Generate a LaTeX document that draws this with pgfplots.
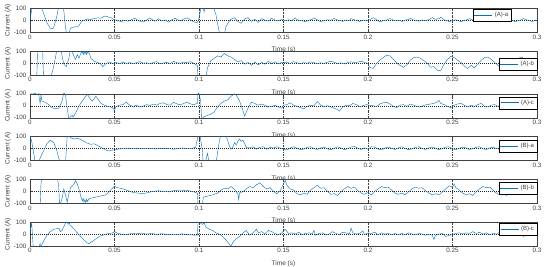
\documentclass[border=0pt]{standalone}
\usepackage{fontspec}
\setmainfont{Liberation Sans}
\usepackage{pgfplots}
\pgfplotsset{compat=1.18}
\definecolor{mblue}{rgb}{0,0.447,0.741}
\definecolor{axgray}{HTML}{404040}
\pgfplotsset{
  sub/.style={
    scale only axis, width=507pt, height=24pt,
    xmin=0, xmax=0.3, ymin=-100, ymax=100,
    xtick={0,0.05,0.1,0.15,0.2,0.25,0.3},
    xticklabels={0,0.05,0.1,0.15,0.2,0.25,0.3},
    ytick={-100,0,100},
    /pgf/number format/assume math mode=true,
    xlabel={Time (s)}, ylabel={Current (A)},
    axis background/.style={fill=white},
    axis line style={draw=axgray, line width=0.45pt},
    tick style={draw=axgray, line width=0.4pt},
    tick align=inside, major tick length=2pt,
    ticklabel style={font=\fontsize{6.3}{7}\selectfont, text=axgray},
    xticklabel style={yshift=1pt},
    label style={font=\fontsize{6.5}{7}\selectfont, text=axgray},
    xlabel style={at={(axis description cs:0.5,0)}, anchor=center, yshift=-18pt},
    ylabel style={at={(axis description cs:-0.0434,0.5)}, anchor=center},
    xmajorgrids,
    grid style={draw=black!75, line width=0.4pt, dash pattern=on 2pt off 1pt on 0.6pt off 1pt},
    legend style={font=\fontsize{6}{7}\selectfont, line width=0.4pt,
      inner sep=1pt, outer sep=0pt, anchor=north east},
    legend cell align=left,
    legend image code/.code={\draw[color=mblue, draw=mblue, line width=0.7pt] (0pt,0pt) -- (18pt,0pt);},
    cycle list={{mblue, no markers, line width=0.45pt}},
  },
  zero/.style={black!85, line width=0.4pt, dash pattern=on 1pt off 1pt, forget plot},
}
\newcommand{\lgt}[1]{\textcolor{axgray}{#1}}
\begin{document}
\begin{tikzpicture}
\path[use as bounding box] (0pt,0pt) rectangle (550pt,-267pt);

% (A)-a
\begin{axis}[sub, at={(30pt,-8.3pt)}, anchor=north west, legend style={at={(0.949,0.97)}}]
\addplot[zero] coordinates {(0,0) (0.3,0)};
\addplot coordinates {
(0,0) (0.001,90) (0.002,140) (0.004,160) (0.006,130) (0.008,60) (0.010,-20) (0.012,-65) (0.013,-72) (0.014,-60) (0.016,40) (0.017,120) (0.019,160) (0.020,80) (0.021,-60) (0.022,-140) (0.023,-110) (0.024,-65) (0.026,-55) (0.028,-55) (0.029,-45) (0.030,-20) (0.031,-5) (0.032,0) (0.034,10) (0.036,5) (0.038,15) (0.040,20) (0.042,18) (0.044,35) (0.046,30) (0.048,20) (0.050,5)
(0.052,-2) (0.054,-12) (0.056,2) (0.058,-8) (0.060,5) (0.062,18) (0.063,6) (0.065,-5) (0.067,-15) (0.069,3) (0.071,20) (0.072,8) (0.074,-8) (0.076,12) (0.078,-2) (0.080,3) (0.082,-16) (0.084,5) (0.086,18) (0.087,6) (0.089,-5) (0.091,12) (0.093,20) (0.095,2) (0.097,-14) (0.099,-18) (0.0995,-5)
(0.100,20) (0.101,90) (0.102,140) (0.103,70) (0.104,130) (0.106,160) (0.108,130) (0.110,50) (0.111,-30) (0.112,-100) (0.113,-140) (0.115,-120) (0.116,-50) (0.118,-5) (0.119,10) (0.121,22) (0.123,-10) (0.125,-25) (0.127,12) (0.129,22) (0.131,-8) (0.133,8) (0.135,-18) (0.137,14) (0.139,0) (0.141,-6) (0.143,16) (0.145,2) (0.147,-4) (0.149,6)
(0.151,-3) (0.153,4) (0.155,-2) (0.157,20) (0.158,5) (0.160,-2) (0.162,-6) (0.163,-12) (0.165,2) (0.167,8) (0.168,20) (0.170,3) (0.172,-12) (0.174,-2) (0.176,4) (0.178,0) (0.180,16) (0.182,2) (0.184,-4) (0.185,-10) (0.187,3) (0.189,-2) (0.190,14) (0.192,4) (0.194,-3) (0.195,-10) (0.197,2) (0.199,-5) (0.201,5) (0.203,22) (0.205,6) (0.207,-14) (0.209,-4) (0.211,3) (0.213,14) (0.215,2) (0.217,-3) (0.219,0) (0.220,-10) (0.222,2) (0.224,6) (0.225,16) (0.227,3) (0.229,-2) (0.230,-8) (0.232,2) (0.234,-3) (0.236,5) (0.238,22) (0.240,8) (0.242,14) (0.243,25) (0.245,5) (0.247,-4) (0.248,-12) (0.250,-2) (0.252,4) (0.254,-6) (0.255,-12) (0.257,0) (0.259,6) (0.260,14) (0.262,2) (0.264,-4) (0.265,-10) (0.267,3) (0.269,6) (0.270,16) (0.272,2) (0.274,-2) (0.275,-6) (0.277,4) (0.279,-2) (0.281,6) (0.282,18) (0.284,4) (0.286,-4) (0.287,-12) (0.289,-2) (0.291,5) (0.292,15) (0.294,3) (0.296,-3) (0.297,-10) (0.299,-2) (0.300,0)
};
\legend{\lgt{(A)-a}}
\end{axis}

% (A)-b
\begin{axis}[sub, at={(30pt,-51.05pt)}, anchor=north west, legend style={at={(1,0.71)}}]
\addplot[zero] coordinates {(0,0) (0.3,0)};
\addplot coordinates {
(0,-130) (0.004,-130) (0.0045,120) (0.006,130) (0.0075,110) (0.008,-130) (0.012,-130) (0.0135,-60) (0.015,40) (0.016,120) (0.018,130) (0.019,60) (0.020,-10) (0.0215,-30) (0.023,40) (0.024,120) (0.026,60) (0.027,30) (0.028,70) (0.029,40) (0.030,80) (0.031,95) (0.0315,70) (0.032,100) (0.0325,75) (0.033,98) (0.0335,70) (0.034,90) (0.035,85) (0.036,40) (0.038,15) (0.040,5) (0.042,-10) (0.043,-30) (0.045,-5) (0.047,10) (0.049,-5) (0.051,5) (0.053,-5)
(0.055,8) (0.057,-3) (0.059,4) (0.061,-6) (0.063,2) (0.065,12) (0.067,-2) (0.069,3) (0.071,-8) (0.073,5) (0.075,12) (0.077,-5) (0.079,0) (0.081,6) (0.083,-4) (0.085,14) (0.087,3) (0.089,-2) (0.091,8) (0.093,2) (0.095,12) (0.097,-4) (0.099,-20)
(0.0995,-130) (0.104,-130) (0.105,-40) (0.107,20) (0.109,40) (0.111,60) (0.113,50) (0.115,80) (0.117,60) (0.119,50) (0.121,30) (0.123,10) (0.125,20) (0.127,-10) (0.129,5) (0.131,-20) (0.133,10) (0.135,-15) (0.137,5) (0.139,-10) (0.141,15) (0.143,-5) (0.145,10) (0.147,-8) (0.149,5) (0.150,0)
(0.152,8) (0.154,-3) (0.156,12) (0.158,2) (0.160,-5) (0.162,3) (0.164,-2) (0.166,10) (0.168,4) (0.170,-6) (0.172,2) (0.174,-3) (0.176,8) (0.178,15) (0.180,5) (0.182,-3) (0.184,2) (0.186,-8) (0.188,4) (0.190,10) (0.192,2) (0.194,8) (0.196,15) (0.198,5) (0.200,-5)
(0.201,-35) (0.203,-45) (0.205,-5) (0.207,25) (0.209,45) (0.211,65) (0.213,60) (0.215,30) (0.217,0) (0.219,-20) (0.221,-35) (0.223,-15) (0.225,25) (0.227,45) (0.229,50) (0.231,40) (0.233,20) (0.235,0) (0.237,-35) (0.239,-30) (0.241,-60) (0.243,-65) (0.245,-10) (0.247,30) (0.249,55) (0.251,45) (0.253,25) (0.255,5) (0.257,-25) (0.259,-45) (0.261,-20) (0.263,-40) (0.265,-10) (0.267,25) (0.269,45) (0.271,50) (0.273,30) (0.275,5) (0.277,-20) (0.279,-40) (0.281,-30) (0.283,-45) (0.285,-15) (0.287,15) (0.289,40) (0.291,50) (0.293,30) (0.295,5) (0.297,-20) (0.299,-35) (0.300,-30)
};
\legend{\lgt{(A)-b}}
\end{axis}

% (A)-c
\begin{axis}[sub, at={(30pt,-93.8pt)}, anchor=north west, legend style={at={(1,0.87)}}]
\addplot[zero] coordinates {(0,0) (0.3,0)};
\addplot coordinates {
(0,90) (0.001,110) (0.003,100) (0.005,120) (0.0055,60) (0.006,20) (0.0065,90) (0.007,40) (0.009,30) (0.011,10) (0.013,-15) (0.015,-25) (0.017,-20) (0.019,40) (0.020,110) (0.021,90) (0.022,-20) (0.023,-110) (0.024,-90) (0.025,-80) (0.0255,-95) (0.027,-60) (0.029,0) (0.031,40) (0.033,80) (0.034,95) (0.036,50) (0.037,40) (0.039,80) (0.040,60) (0.042,20) (0.044,5) (0.046,-5) (0.048,-10) (0.050,-30) (0.051,-5) (0.053,5)
(0.055,10) (0.057,30) (0.059,5) (0.061,-5) (0.063,5) (0.065,-10) (0.067,-3) (0.069,10) (0.071,2) (0.073,15) (0.075,5) (0.077,20) (0.079,25) (0.081,10) (0.083,5) (0.085,30) (0.087,15) (0.089,8) (0.091,20) (0.093,30) (0.095,15) (0.097,10) (0.099,20)
(0.0995,110) (0.100,100) (0.101,40) (0.1015,-110) (0.103,-90) (0.105,-80) (0.107,-70) (0.109,-50) (0.111,-10) (0.113,20) (0.115,40) (0.117,50) (0.119,80) (0.121,100) (0.122,90) (0.124,40) (0.126,-40) (0.127,-85) (0.129,-20) (0.131,30) (0.133,20) (0.135,5) (0.137,15) (0.139,5) (0.141,-10) (0.143,-5) (0.145,5) (0.147,-10) (0.149,-20) (0.150,5)
(0.152,10) (0.154,25) (0.156,5) (0.158,-5) (0.160,-15) (0.162,-25) (0.164,-5) (0.166,5) (0.168,0) (0.170,35) (0.172,5) (0.174,-5) (0.176,0) (0.178,-10) (0.180,-20) (0.182,-30) (0.183,-45) (0.185,-10) (0.187,5) (0.189,0) (0.191,20) (0.193,10) (0.195,-5) (0.197,0) (0.199,10) (0.201,5) (0.203,0) (0.205,-5) (0.207,15) (0.209,25) (0.211,30) (0.213,15) (0.215,-5) (0.217,-15) (0.219,5) (0.221,10) (0.223,-5) (0.225,15) (0.227,5) (0.229,-5) (0.231,-10) (0.233,5) (0.235,10) (0.237,15) (0.239,20) (0.241,30) (0.242,45) (0.243,20) (0.245,10) (0.247,-5) (0.249,-15) (0.251,5) (0.253,15) (0.255,20) (0.257,5) (0.259,-10) (0.261,5) (0.263,-5) (0.265,10) (0.267,20) (0.269,-5) (0.271,-10) (0.273,5) (0.275,10) (0.277,-5) (0.279,5) (0.281,10) (0.283,-10) (0.285,-20) (0.287,0) (0.289,10) (0.291,5) (0.293,-10) (0.295,-15) (0.297,5) (0.299,0) (0.300,5)
};
\legend{\lgt{(A)-c}}
\end{axis}

% (B)-a
\begin{axis}[sub, at={(30pt,-136.55pt)}, anchor=north west, legend style={at={(1,0.85)}}]
\addplot[zero] coordinates {(0,0) (0.3,0)};
\addplot coordinates {
(0,110) (0.001,60) (0.002,-20) (0.003,-110) (0.005,-120) (0.006,-80) (0.008,-20) (0.010,40) (0.012,70) (0.014,50) (0.016,-20) (0.017,-80) (0.018,-120) (0.021,-120) (0.022,100) (0.023,120) (0.024,90) (0.026,80) (0.028,85) (0.030,75) (0.032,60) (0.034,45) (0.036,35) (0.038,40) (0.040,25) (0.042,10) (0.044,-5) (0.046,-20) (0.048,-15) (0.050,-10) (0.052,-5)
(0.055,0) (0.058,4) (0.060,-2) (0.063,3) (0.065,-2) (0.068,2) (0.070,3) (0.073,-2) (0.075,-3) (0.078,2) (0.080,2) (0.083,-3) (0.085,-5) (0.088,2) (0.090,5) (0.093,0) (0.095,0) (0.098,10)
(0.0995,110) (0.1005,120) (0.102,-20) (0.1025,-130) (0.104,-100) (0.105,-40) (0.106,-120) (0.110,-130) (0.112,60) (0.113,120) (0.116,110) (0.118,20) (0.119,-5) (0.120,10) (0.121,50) (0.122,30) (0.123,60) (0.124,80) (0.125,60) (0.126,70) (0.127,40) (0.128,10) (0.130,5) (0.132,15) (0.134,-5) (0.136,10) (0.138,15) (0.140,-5) (0.142,10) (0.144,5) (0.146,15) (0.148,5) (0.150,-5)
(0.152,-12) (0.154,5) (0.156,15) (0.158,3) (0.160,-10) (0.162,-5) (0.164,10) (0.166,15) (0.168,0) (0.170,-8) (0.172,5) (0.174,12) (0.176,-3) (0.178,-10) (0.180,2) (0.182,15) (0.184,5) (0.186,-10) (0.188,0) (0.190,12) (0.192,18) (0.194,2) (0.196,-8) (0.198,5) (0.200,-5) (0.202,15) (0.204,12) (0.206,-5) (0.208,-10) (0.210,5) (0.212,12) (0.214,2) (0.216,-8) (0.218,5) (0.220,15) (0.222,0) (0.224,-10) (0.226,-2) (0.228,10) (0.230,15) (0.232,0) (0.234,-8) (0.236,5) (0.238,12) (0.240,3) (0.242,-10) (0.244,0) (0.246,12) (0.248,15) (0.250,-3) (0.252,-10) (0.254,2) (0.256,12) (0.258,5) (0.260,-8) (0.262,0) (0.264,10) (0.266,15) (0.268,-2) (0.270,-8) (0.272,5) (0.274,12) (0.276,0) (0.278,-8) (0.280,2) (0.282,15) (0.284,20) (0.286,5) (0.288,-8) (0.290,0) (0.292,12) (0.294,3) (0.296,-8) (0.298,2) (0.300,5)
};
\legend{\lgt{(B)-a}}
\end{axis}

% (B)-b
\begin{axis}[sub, at={(30pt,-179.3pt)}, anchor=north west, legend style={at={(1,0.89)}}]
\addplot[zero] coordinates {(0,0) (0.3,0)};
\addplot coordinates {
(0,-120) (0.006,-120) (0.0065,60) (0.007,120) (0.016,130) (0.017,40) (0.0175,-120) (0.019,-60) (0.020,20) (0.021,-30) (0.022,-90) (0.023,-20) (0.024,30) (0.026,60) (0.027,90) (0.028,60) (0.029,20) (0.030,-40) (0.031,-80) (0.0315,-60) (0.032,-90) (0.0325,-70) (0.033,-95) (0.0335,-65) (0.034,-85) (0.035,-60) (0.037,-55) (0.040,-45) (0.043,-35) (0.045,-30) (0.047,0) (0.049,30) (0.050,40) (0.052,30)
(0.055,20) (0.058,5) (0.061,-10) (0.064,-15) (0.067,-20) (0.070,-10) (0.073,0) (0.076,5) (0.079,0) (0.082,-5) (0.085,5) (0.088,10) (0.091,8) (0.094,5) (0.097,-5) (0.099,-15)
(0.0995,-120) (0.102,-120) (0.1025,-50) (0.105,-40) (0.108,-30) (0.111,-15) (0.113,10) (0.115,25) (0.117,20) (0.119,40) (0.121,15) (0.123,-20) (0.1235,-70) (0.124,-10) (0.126,-5) (0.128,20) (0.130,40) (0.132,30) (0.134,55) (0.136,70) (0.138,40) (0.140,20) (0.142,30) (0.144,0) (0.146,-20) (0.148,5)
(0.150,60) (0.151,90) (0.152,50) (0.154,20) (0.156,10) (0.158,-20) (0.160,-30) (0.162,-15) (0.164,-25) (0.166,10) (0.168,30) (0.170,50) (0.172,25) (0.174,30) (0.176,0) (0.178,-25) (0.180,-20) (0.182,-35) (0.184,-5) (0.186,20) (0.188,40) (0.190,25) (0.192,35) (0.194,5) (0.196,-15) (0.198,-25) (0.200,-10) (0.202,-30) (0.204,0) (0.206,20) (0.208,40) (0.210,30) (0.212,35) (0.214,10) (0.216,-15) (0.218,-25) (0.220,-15) (0.222,-30) (0.224,-5) (0.226,20) (0.228,35) (0.230,25) (0.232,30) (0.234,5) (0.236,-15) (0.238,-30) (0.240,-20) (0.242,-30) (0.244,-5) (0.246,20) (0.248,45) (0.250,35) (0.251,60) (0.252,30) (0.254,10) (0.256,-15) (0.258,-30) (0.260,-20) (0.262,-35) (0.264,-5) (0.266,20) (0.268,40) (0.270,30) (0.272,35) (0.274,10) (0.276,-15) (0.278,-30) (0.280,-20) (0.282,-35) (0.284,-5) (0.286,20) (0.288,45) (0.290,30) (0.292,50) (0.294,20) (0.296,-10) (0.298,-30) (0.300,-20)
};
\legend{\lgt{(B)-b}}
\end{axis}

% (B)-c
\begin{axis}[sub, at={(30pt,-222.05pt)}, anchor=north west, legend style={at={(1,0.96)}}]
\addplot[zero] coordinates {(0,0) (0.3,0)};
\addplot coordinates {
(0,20) (0.001,90) (0.0015,-20) (0.002,-120) (0.005,-120) (0.006,-80) (0.0065,-120) (0.007,-90) (0.008,-60) (0.010,-10) (0.012,20) (0.014,40) (0.016,45) (0.017,50) (0.018,20) (0.019,30) (0.020,60) (0.021,90) (0.022,110) (0.0225,80) (0.023,100) (0.024,70) (0.025,60) (0.026,40) (0.028,10) (0.030,-20) (0.032,-50) (0.034,-75) (0.035,-80) (0.037,-60) (0.039,-40) (0.041,-20) (0.043,-10) (0.045,0) (0.047,5) (0.049,10) (0.050,20) (0.052,5) (0.054,0)
(0.057,-5) (0.060,5) (0.063,2) (0.066,8) (0.069,0) (0.072,5) (0.075,-3) (0.078,3) (0.081,-5) (0.084,0) (0.087,-5) (0.090,2) (0.093,-5) (0.096,-8) (0.099,-10)
(0.0995,110) (0.1005,120) (0.101,90) (0.102,80) (0.103,95) (0.104,60) (0.106,40) (0.108,30) (0.110,10) (0.112,0) (0.114,-20) (0.116,-50) (0.118,-85) (0.119,-100) (0.120,-70) (0.122,-40) (0.124,-20) (0.126,10) (0.128,30) (0.130,-10) (0.132,10) (0.134,40) (0.135,10) (0.137,20) (0.139,0) (0.141,30) (0.143,20) (0.145,5) (0.147,-5) (0.149,10) (0.151,40) (0.153,5) (0.155,10) (0.157,0)
(0.159,15) (0.161,-5) (0.163,5) (0.165,10) (0.167,0) (0.168,30) (0.169,-10) (0.171,5) (0.173,10) (0.175,-5) (0.177,0) (0.179,20) (0.181,5) (0.183,-5) (0.185,15) (0.187,10) (0.189,0) (0.190,50) (0.191,10) (0.193,0) (0.195,5) (0.197,25) (0.198,-5) (0.200,10) (0.202,5) (0.204,15) (0.206,-5) (0.208,10) (0.210,0) (0.212,5) (0.214,-5) (0.216,5) (0.218,-5) (0.220,5) (0.222,-5) (0.224,10) (0.226,0) (0.228,-5) (0.230,5) (0.232,0) (0.234,-10) (0.236,0) (0.238,-10) (0.239,-45) (0.240,-10) (0.242,0) (0.244,5) (0.246,-20) (0.248,-10) (0.250,-5) (0.252,5) (0.254,10) (0.256,0) (0.258,10) (0.260,5) (0.262,20) (0.264,5) (0.266,15) (0.268,0) (0.270,10) (0.272,-5) (0.274,5) (0.276,0) (0.278,15) (0.280,20) (0.282,-5) (0.284,5) (0.286,-10) (0.288,0) (0.290,5) (0.292,-20) (0.294,0) (0.296,-10) (0.298,5) (0.300,0)
};
\legend{\lgt{(B)-c}}
\end{axis}
\end{tikzpicture}
\end{document}
